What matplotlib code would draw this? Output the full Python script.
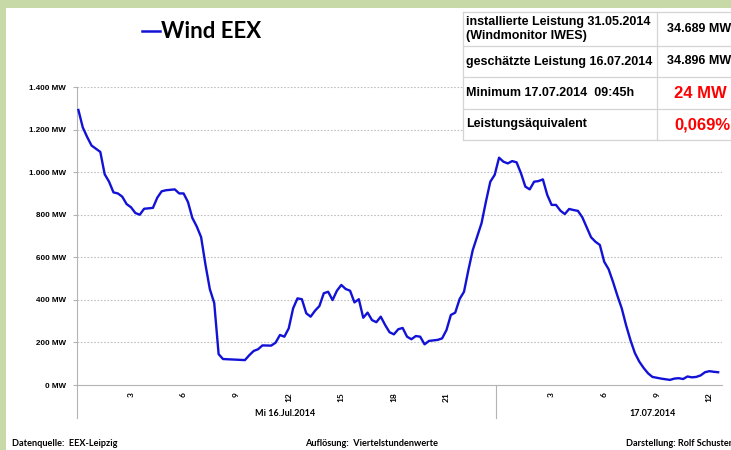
import matplotlib
matplotlib.use("Agg")
import matplotlib.pyplot as plt
from matplotlib.patches import Rectangle
from matplotlib.lines import Line2D

# Wind EEX, quarter-hour values (hours since 16.07.2014 00:00)
hours = [0.0, 0.25, 0.5, 0.75, 1.0, 1.25, 1.5, 1.75, 2.0, 2.25, 2.5, 2.75, 3.0, 3.25, 3.5, 3.75,
         4.25, 4.5, 4.75, 5.0, 5.5, 5.75, 6.0, 6.25, 6.5, 6.75, 7.0, 7.25, 7.5, 7.75, 8.0, 8.25,
         8.75, 9.5, 9.75, 10.0, 10.25, 10.5, 11.0, 11.25, 11.5, 11.75, 12.0, 12.25, 12.5, 12.75,
         13.0, 13.25, 13.5, 13.75, 14.0, 14.25, 14.5, 14.75, 15.0, 15.25, 15.5, 15.75, 16.0, 16.25,
         16.5, 16.75, 17.0, 17.25, 17.5, 17.75, 18.0, 18.25, 18.5, 18.75, 19.0, 19.25, 19.5, 19.75,
         20.0, 20.5, 20.75, 21.0, 21.25, 21.5, 21.75, 22.0, 22.25, 22.5, 23.0, 23.25, 23.5, 23.75,
         24.0, 24.25, 24.5, 24.75, 25.0, 25.25, 25.5, 25.75, 26.0, 26.25, 26.5, 26.75, 27.0, 27.25,
         27.5, 27.75, 28.0, 28.25, 28.5, 28.75, 29.0, 29.25, 29.5, 29.75, 30.0, 30.25, 30.5, 30.75,
         31.0, 31.25, 31.5, 31.75, 32.0, 32.25, 32.5, 32.75, 33.0, 33.25, 33.5, 33.75, 34.0, 34.25,
         34.5, 34.75, 35.0, 35.25, 35.5, 35.75, 36.0, 36.25, 36.5]
wind_mw = [1292, 1210, 1165, 1125, 1110, 1095, 990, 955, 905, 900, 885, 850, 835, 808, 800, 828,
           832, 880, 910, 915, 919, 900, 900, 860, 785, 745, 695, 565, 450, 385, 145, 122,
           120, 117, 140, 160, 168, 186, 185, 199, 235, 227, 266, 360, 407, 403,
           337, 321, 349, 371, 431, 438, 399, 443, 470, 451, 443, 388, 403, 316,
           340, 305, 295, 321, 282, 248, 238, 262, 268, 227, 215, 230, 227, 191,
           207, 212, 219, 258, 329, 340, 404, 438, 540, 634, 760, 861, 955, 987,
           1068, 1049, 1041, 1052, 1046, 995, 932, 919, 955, 958, 966, 893, 846, 846,
           819, 803, 827, 822, 818, 788, 741, 694, 673, 658, 579, 544, 485, 420,
           360, 280, 210, 150, 110, 80, 55, 38, 34, 30, 27, 24, 30, 32,
           28, 40, 36, 38, 45, 60, 65, 62, 60]

y_ticks = [0, 200, 400, 600, 800, 1000, 1200, 1400]
y_labels = ["0 MW", "200 MW", "400 MW", "600 MW", "800 MW", "1.000 MW", "1.200 MW", "1.400 MW"]
x_ticks = [3, 6, 9, 12, 15, 18, 21, 27, 30, 33, 36]
x_labels = ["3", "6", "9", "12", "15", "18", "21", "3", "6", "9", "12"]
day_labels = ["Mi 16.Jul.2014", "17.07.2014"]

table_left = ["installierte Leistung 31.05.2014\n(Windmonitor IWES)", "geschätzte Leistung 16.07.2014",
              "Minimum 17.07.2014  09:45h", "Leistungsäquivalent"]
table_right = ["34.689 MW", "34.896 MW", "24 MW", "0,069%"]

W, H = 731, 450
LINE = "#1212d6"
GRID = "#c0c0c0"
AXC = "#b3b3b3"


def fx(x):
    return x / W


def fy(y):
    return 1 - y / H


fig = plt.figure(figsize=(W / 100, H / 100), dpi=100)
fig.patch.set_facecolor("#c8d9a8")
fig.add_artist(Rectangle((fx(6), 0), 1, fy(8), transform=fig.transFigure,
                         facecolor="white", edgecolor="none", zorder=0))

ax = fig.add_axes([fx(77), fy(385), fx(722) - fx(77), fy(87) - fy(385)])
ax.set_facecolor("none")
ax.plot(hours, wind_mw, color=LINE, lw=1.7, zorder=3)
ax.set_xlim(-0.08, 36.72)
ax.set_ylim(0, 1400)

ax.set_yticks(y_ticks)
ax.set_yticklabels(y_labels, fontsize=5.8, fontweight="bold", family="Liberation Sans")
ax.tick_params(axis="y", length=3, color=AXC, pad=5)
ax.set_xticks(x_ticks)
ax.set_xticklabels(x_labels, rotation=90, fontsize=6, fontweight="bold", family="Lato")
ax.tick_params(axis="x", length=0, pad=5)
for v in y_ticks[1:]:
    ax.axhline(v, color=GRID, lw=0.8, ls=(0, (1.5, 1.5)), zorder=1)

for side in ["top", "right"]:
    ax.spines[side].set_visible(False)
ax.spines["left"].set_color(AXC)
ax.spines["bottom"].set_color(AXC)

# day separators below the axis
for xp in [77, 496]:
    fig.add_artist(Line2D([fx(xp), fx(xp)], [fy(385), fy(418)], color=AXC, lw=0.8))
fig.text(fx(285), fy(413), day_labels[0], fontsize=6.5, fontweight="bold", family="Lato",
         ha="center", va="center")
fig.text(fx(653), fy(413), day_labels[1], fontsize=6.5, fontweight="bold", family="Lato",
         ha="center", va="center")

# legend-like title
fig.add_artist(Line2D([fx(142), fx(160)], [fy(31), fy(31)], color=LINE, lw=1.8))
fig.text(fx(161), fy(31), "Wind EEX", fontsize=16, fontweight="bold", family="Lato",
         ha="left", va="center")

# info table in the top right corner
rows = [12, 46, 77, 109, 140]
fig.add_artist(Rectangle((fx(463), fy(140)), 1, fy(12) - fy(140), transform=fig.transFigure,
                         facecolor="white", edgecolor="none", zorder=4))
for r in rows:
    fig.add_artist(Line2D([fx(463), 1], [fy(r), fy(r)], color="#d4d4d4", lw=0.9, zorder=5))
for c in [463, 657]:
    fig.add_artist(Line2D([fx(c), fx(c)], [fy(12), fy(140)], color="#d4d4d4", lw=0.9, zorder=5))
for i in range(4):
    yc = (rows[i] + rows[i + 1]) / 2
    fig.text(fx(466), fy(yc), table_left[i], fontsize=9, fontweight="bold",
             family="Liberation Sans", ha="left", va="center", linespacing=1.3, zorder=6)
    if i < 2:
        fig.text(fx(667), fy(yc), table_right[i], fontsize=9, fontweight="bold",
                 family="Liberation Sans", ha="left", va="center", zorder=6)
    else:
        fig.text(fx(674), fy(yc), table_right[i], fontsize=12, fontweight="bold", color="#ff0000",
                 family="Liberation Sans", ha="left", va="center", zorder=6)

# footer
fig.text(fx(12), fy(444), "Datenquelle:  EEX-Leipzig", fontsize=6.6, fontweight="bold",
         family="Lato", ha="left", va="center")
fig.text(fx(305), fy(444), "Auflösung:  Viertelstundenwerte", fontsize=6.6, fontweight="bold",
         family="Lato", ha="left", va="center")
fig.text(fx(626), fy(444), "Darstellung: Rolf Schuster", fontsize=6.6, fontweight="bold",
         family="Lato", ha="left", va="center")

fig.savefig("out.png", dpi=100)
